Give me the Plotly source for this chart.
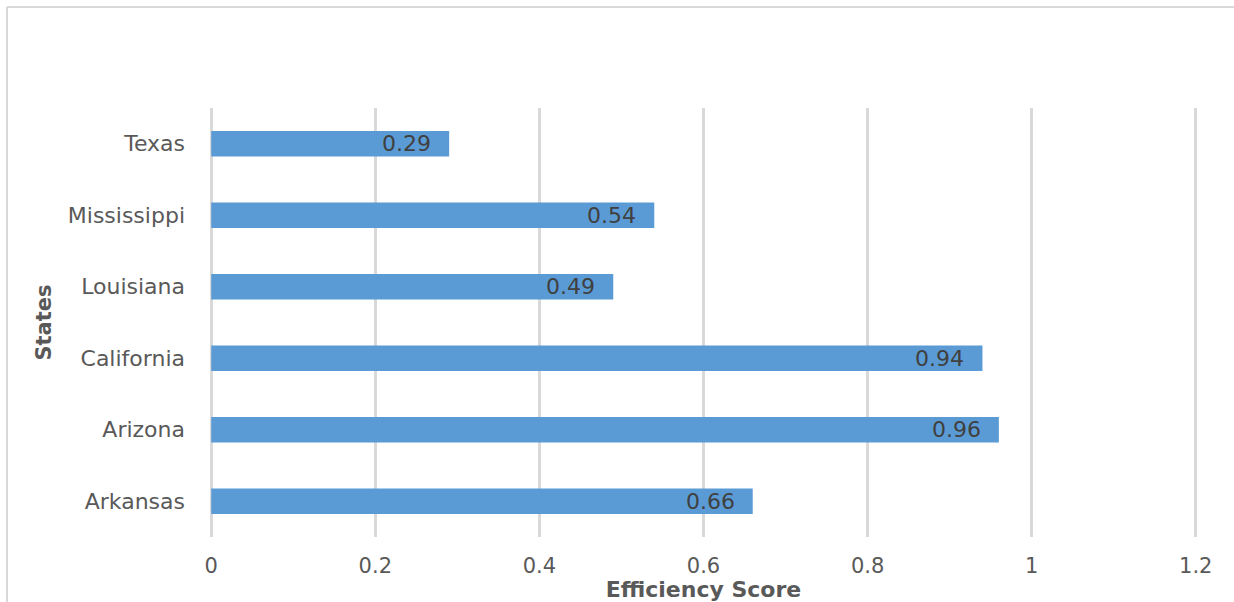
import plotly.graph_objects as go

# Efficiency scores by state (bottom to top on the chart)
states = ["Arkansas", "Arizona", "California", "Louisiana", "Mississippi", "Texas"]
scores = [0.66, 0.96, 0.94, 0.49, 0.54, 0.29]
x_ticks = [0, 0.2, 0.4, 0.6, 0.8, 1, 1.2]
x_tick_labels = ["0", "0.2", "0.4", "0.6", "0.8", "1", "1.2"]

W, H = 1234, 602
L, R, T, B = 210, 37, 108, 65
pw, ph = W - L - R, H - T - B

BAR = "#5b9bd5"
GRID = "#d9d9d9"
TXT = "#595959"
FONT = "DejaVu Sans, sans-serif"

fig = go.Figure()
fig.add_trace(go.Bar(
    x=scores, y=states, orientation="h",
    marker=dict(color=BAR, line=dict(width=0)),
    width=0.36, hoverinfo="x+y",
))

# value labels at the inner end of each bar
for s, v in zip(states, scores):
    fig.add_annotation(
        x=v, y=s, text=f"{v:.2f}", showarrow=False,
        xanchor="right", yanchor="middle", xshift=-16,
        font=dict(family=FONT, size=22, color="#404040"),
    )

# chart frame: left and top edges (the others run off the page)
fx0 = (7 - L) / pw
fy1 = 1 + (T - 7) / ph
fig.add_shape(type="line", xref="paper", yref="paper",
              x0=fx0, x1=fx0, y0=-1, y1=fy1,
              line=dict(color=GRID, width=2), layer="below")
fig.add_shape(type="line", xref="paper", yref="paper",
              x0=fx0, x1=2, y0=fy1, y1=fy1,
              line=dict(color=GRID, width=2), layer="below")

fig.update_layout(
    width=W, height=H,
    margin=dict(l=L, r=R, t=T, b=B, pad=0, autoexpand=False),
    paper_bgcolor="white", plot_bgcolor="white",
    showlegend=False,
    font=dict(family=FONT, size=21, color=TXT),
    xaxis=dict(
        range=[-0.0015, 1.2015], tickvals=x_ticks, ticktext=x_tick_labels,
        showgrid=True, gridcolor=GRID, gridwidth=3,
        zeroline=False, showline=False, ticks="", automargin=False,
        tickfont=dict(size=21, color=TXT), ticklabelstandoff=14,
        title=dict(text="<b>Efficiency Score</b>", standoff=1,
                   font=dict(size=22, color=TXT)),
    ),
    yaxis=dict(
        categoryorder="array", categoryarray=states,
        range=[-0.5, len(states) - 0.5],
        showgrid=False, zeroline=False, showline=False, ticks="", automargin=False,
        tickfont=dict(size=22, color=TXT), ticklabelstandoff=24,
        title=dict(text="<b>States</b>", standoff=10,
                   font=dict(size=21, color=TXT)),
    ),
)

fig.write_html("out.html")
